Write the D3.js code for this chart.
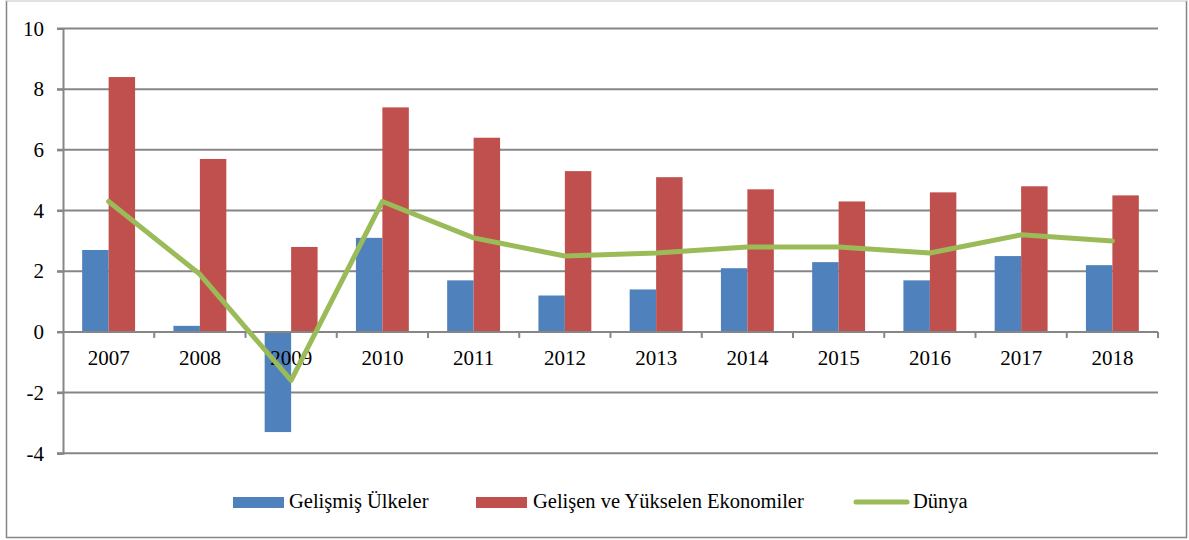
<!DOCTYPE html>
<html>
<head>
<meta charset="utf-8">
<script src="https://cdn.jsdelivr.net/npm/d3@7"></script>
<style>
  body { margin: 0; background: #fff; }
  svg { display: block; }
</style>
</head>
<body>
<svg id="chart" width="1189" height="540"></svg>
<script>
// data
var years = ["2007", "2008", "2009", "2010", "2011", "2012", "2013", "2014", "2015", "2016", "2017", "2018"];
var gelismis = [2.7, 0.2, -3.3, 3.1, 1.7, 1.2, 1.4, 2.1, 2.3, 1.7, 2.5, 2.2];
var gelisen = [8.4, 5.7, 2.8, 7.4, 6.4, 5.3, 5.1, 4.7, 4.3, 4.6, 4.8, 4.5];
var dunya = [4.3, 1.9, -1.6, 4.3, 3.1, 2.5, 2.6, 2.8, 2.8, 2.6, 3.2, 3.0];
var yTicks = [-4, -2, 0, 2, 4, 6, 8, 10];
var seriesNames = ["Gelişmiş Ülkeler", "Gelişen ve Yükselen Ekonomiler", "Dünya"];

var colors = { blue: "#4f81bd", red: "#c0504d", green: "#9bbb59", grid: "#868686" };
var serif = "'Liberation Serif', 'Times New Roman', serif";

var svg = d3.select("#chart").attr("font-family", serif);

// outer chart border
svg.append("rect")
    .attr("x", 6.5).attr("y", 0.5)
    .attr("width", 1180).attr("height", 537)
    .attr("fill", "none").attr("stroke", colors.grid).attr("stroke-width", 1.5);
svg.append("line")
    .attr("x1", 6).attr("x2", 1188).attr("y1", 0.5).attr("y2", 0.5)
    .attr("stroke", "#e2e2e2").attr("stroke-width", 1.5);

var plotLeft = 63, plotRight = 1158, plotTop = 28.5, plotBottom = 453.3;

var x = d3.scaleBand().domain(years).range([plotLeft, plotRight]).paddingInner(0.42).paddingOuter(0.21);
var xCat = d3.scaleBand().domain(years).range([plotLeft, plotRight]);
var x1 = d3.scaleBand().domain([0, 1]).range([0, x.bandwidth()]);
var y = d3.scaleLinear().domain([-4, 10]).range([plotBottom, plotTop]);

// gridlines
svg.append("g").selectAll("line")
    .data(yTicks.filter(function(d) { return d !== 0; }))
  .enter().append("line")
    .attr("x1", plotLeft - 6).attr("x2", plotRight)
    .attr("y1", function(d) { return y(d); })
    .attr("y2", function(d) { return y(d); })
    .attr("stroke", colors.grid).attr("stroke-width", 2);

// y axis (plain hyphen for negatives, like the source)
var yAxis = svg.append("g")
    .attr("transform", "translate(" + plotLeft + ",0)")
    .call(d3.axisLeft(y).tickValues(yTicks).tickSize(6).tickPadding(13)
        .tickFormat(function(d) { return String(d); }));
yAxis.attr("font-family", serif).attr("font-size", 21);
yAxis.select(".domain").attr("stroke", colors.grid).attr("stroke-width", 2);
yAxis.selectAll(".tick line").attr("stroke", colors.grid).attr("stroke-width", 2);
yAxis.selectAll("text").attr("fill", "#000");

// bars
var bars = svg.append("g");
bars.selectAll("rect.blue")
    .data(years)
  .enter().append("rect")
    .attr("class", "blue")
    .attr("x", function(d) { return x(d) + x1(0); })
    .attr("width", x1.bandwidth())
    .attr("y", function(d, i) { return y(Math.max(0, gelismis[i])); })
    .attr("height", function(d, i) { return Math.abs(y(gelismis[i]) - y(0)); })
    .attr("fill", colors.blue);
bars.selectAll("rect.red")
    .data(years)
  .enter().append("rect")
    .attr("class", "red")
    .attr("x", function(d) { return x(d) + x1(1); })
    .attr("width", x1.bandwidth())
    .attr("y", function(d, i) { return y(Math.max(0, gelisen[i])); })
    .attr("height", function(d, i) { return Math.abs(y(gelisen[i]) - y(0)); })
    .attr("fill", colors.red);

// x axis at zero
var xAxis = svg.append("g").attr("transform", "translate(0," + y(0) + ")");
xAxis.append("line")
    .attr("x1", plotLeft - 6).attr("x2", plotRight)
    .attr("stroke", colors.grid).attr("stroke-width", 2);
xAxis.selectAll("line.tick")
    .data(years)
  .enter().append("line")
    .attr("class", "tick")
    .attr("x1", function(d) { return xCat(d) + xCat.bandwidth(); })
    .attr("x2", function(d) { return xCat(d) + xCat.bandwidth(); })
    .attr("y1", 0).attr("y2", 6)
    .attr("stroke", colors.grid).attr("stroke-width", 2);
xAxis.selectAll("text")
    .data(years)
  .enter().append("text")
    .attr("x", function(d) { return xCat(d) + xCat.bandwidth() / 2; })
    .attr("y", 33)
    .attr("text-anchor", "middle")
    .attr("font-size", 21)
    .text(function(d) { return d; });

// world line
var line = d3.line()
    .x(function(d, i) { return xCat(years[i]) + xCat.bandwidth() / 2; })
    .y(function(d) { return y(d); });
svg.append("path")
    .datum(dunya)
    .attr("d", line)
    .attr("fill", "none")
    .attr("stroke", colors.green)
    .attr("stroke-width", 5)
    .attr("stroke-linejoin", "round")
    .attr("stroke-linecap", "round");

// legend
var legend = svg.append("g").attr("font-size", 20.5).attr("font-family", serif);
legend.append("rect").attr("x", 233).attr("y", 497).attr("width", 51).attr("height", 11).attr("fill", colors.blue);
legend.append("text").attr("x", 289).attr("y", 508).text(seriesNames[0]);
legend.append("rect").attr("x", 476).attr("y", 497).attr("width", 51).attr("height", 11).attr("fill", colors.red);
legend.append("text").attr("x", 533).attr("y", 508).text(seriesNames[1]);
legend.append("line").attr("x1", 856).attr("x2", 907).attr("y1", 502).attr("y2", 502)
    .attr("stroke", colors.green).attr("stroke-width", 5).attr("stroke-linecap", "round");
legend.append("text").attr("x", 913).attr("y", 508).text(seriesNames[2]);
</script>
</body>
</html>
